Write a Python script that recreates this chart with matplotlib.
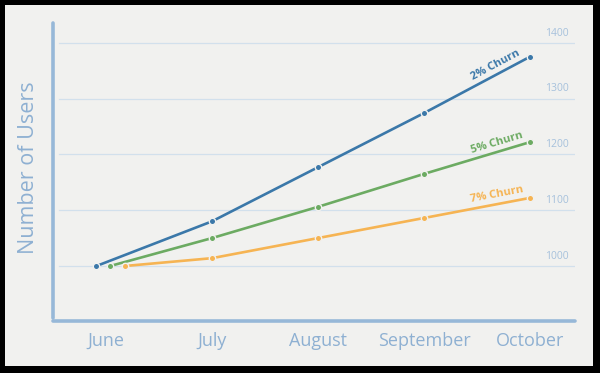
import numpy as np
import matplotlib
matplotlib.use("Agg")
import matplotlib.pyplot as plt
from matplotlib.patches import Rectangle
from matplotlib.lines import Line2D
from matplotlib.transforms import offset_copy

months = ["June", "July", "August", "September", "October"]
churn_2 = [1000, 1080, 1177, 1274, 1375]
churn_5 = [1000, 1050, 1106, 1165, 1222]
churn_7 = [1000, 1014, 1050, 1086, 1122]
series_names = ["2% Churn", "5% Churn", "7% Churn"]
y_ticks = [1000, 1100, 1200, 1300, 1400]

colors = ["#3b78a9", "#6cab62", "#f6b453"]
june_shift = [-0.09, 0.04, 0.18]   # first points are drawn nudged apart
axis_col = "#97b8d8"
grid_col = "#d2e0ec"
text_col = "#8eb0d2"
paper = "#f1f1ef"

plt.rcParams['font.family'] = ['Open Sans', 'DejaVu Sans']

fig = plt.figure(figsize=(6, 3.73), dpi=100, facecolor="black")
fig.patches.append(Rectangle((5 / 600, 7 / 373), 588 / 600, 361 / 373,
                             transform=fig.transFigure, facecolor=paper,
                             edgecolor="none", zorder=-5))

ax = fig.add_axes([53 / 600, 52 / 373, 522 / 600, 298 / 373])
ax.set_facecolor("none")
ax.set_xlim(-0.5, 4.425)
ax.set_ylim(901.4, 1435.5)
for s in ax.spines.values():
    s.set_visible(False)

# gridlines + right-hand value labels
for v in y_ticks:
    ax.axhline(v, xmin=0.0115, xmax=1.0, color=grid_col, lw=0.9, zorder=1)
    ax.annotate(str(v), xy=(1, v), xycoords=("axes fraction", "data"),
                xytext=(-4.5, 3), textcoords="offset points",
                ha="right", va="bottom", fontsize=7.5, color="#a6c1dc")

# axis lines
ax.add_line(Line2D([0, 0], [0.01, 1.0], transform=ax.transAxes, color=axis_col,
                   lw=2.6, solid_capstyle="round", clip_on=False))
ax.add_line(Line2D([0, 1], [0, 0], transform=ax.transAxes, color=axis_col,
                   lw=2.6, solid_capstyle="round", clip_on=False))

lab_tr = offset_copy(ax.transData, fig=fig, y=4, units="dots")
x = np.arange(len(months), dtype=float)
for vals, col, shift, name in zip([churn_2, churn_5, churn_7], colors, june_shift, series_names):
    xs = x.copy()
    xs[0] += shift
    ax.plot(xs, vals, color=col, lw=1.9, marker="o", markersize=4.6,
            markerfacecolor=col, markeredgecolor=paper, markeredgewidth=1.0,
            zorder=3, clip_on=False)
    # label along the last segment
    ang = np.degrees(np.arctan2(vals[4] - vals[3], 1.0))
    tx = 3.7
    ty = vals[3] + (vals[4] - vals[3]) * (tx - 3)
    ax.text(tx, ty, name, rotation=ang, transform=lab_tr, transform_rotates_text=True,
            rotation_mode="anchor", ha="center", va="bottom",
            fontsize=8, fontweight="bold", color=col, zorder=4)

ax.set_xticks(x)
ax.set_xticklabels(months, fontsize=13, color=text_col)
ax.tick_params(axis="x", length=0, pad=8)
ax.set_yticks([])

fig.text(29 / 600, 1 - 168 / 373, "Number of Users", rotation=90,
         ha="center", va="center", fontsize=15.5, color=text_col)

fig.savefig("out.png", dpi=100, facecolor="black")
